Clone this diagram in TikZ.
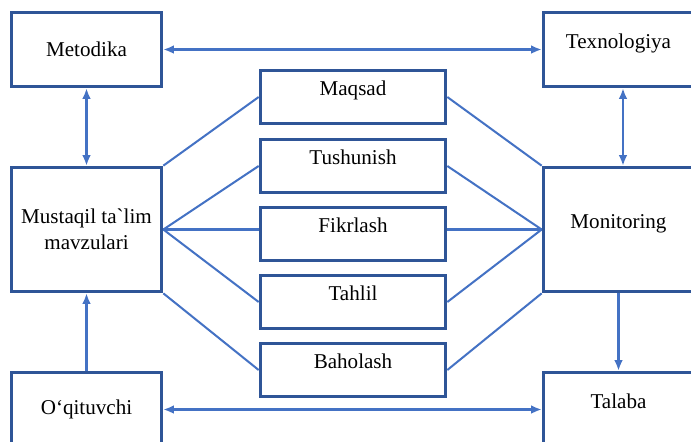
\documentclass[tikz,border=0pt]{standalone}
\usepackage{fontspec}
\setmainfont{Liberation Serif}
\newfontfamily\rawserif{Liberation Serif}
\usetikzlibrary{arrows.meta}
\definecolor{boxblue}{HTML}{2F5597}
\definecolor{lineblue}{HTML}{4472C4}

\begin{document}
\begin{tikzpicture}[
x=0.02cm, y=-0.02cm,
>={Latex[length=6pt,width=5pt]},
every node/.style={
draw=boxblue,
line width=2.1pt,
align=center,
font=\fontsize{12}{14.5}\selectfont
},
bigbox/.style={
minimum width=3.0cm,
minimum height=1.48cm
},
midbox/.style={
minimum width=3.7cm,
minimum height=1.06cm,
text height=0.25cm,
text depth=0.31cm
},
raised/.style={
text height=0.25cm,
text depth=0.31cm
},
link/.style={
draw=lineblue,
line width=1.15pt
}
]

\useasboundingbox (0,0) rectangle (691,441);
\clip (0,0) rectangle (691,441);

\node[bigbox] (Met) at (86.5,49.5)
{Metodika};

\node[bigbox,raised] (Tex) at (618.5,49.5)
{Texnologiya};

\node[bigbox,minimum height=2.48cm] (Mus) at (86.5,229.5)
{Mustaqil ta{\rawserif\char96}lim\\mavzulari};

\node[bigbox,minimum height=2.48cm,raised] (Mon) at (618.5,229.5)
{Monitoring};

\node[bigbox] (Oqi) at (86.5,409.5)
{O‘qituvchi};

\node[bigbox,raised] (Tal) at (618.5,409.5)
{Talaba};

\node[midbox] (Maq) at (353,97)
{Maqsad};

\node[midbox] (Tus) at (353,166)
{Tushunish};

\node[midbox] (Fik) at (353,234)
{Fikrlash};

\node[midbox] (Tah) at (353,302)
{Tahlil};

\node[midbox] (Bah) at (353,370)
{Baholash};

\draw[link] (Mus.north east) -- (Maq.west);
\draw[link] (Mus.east) -- (Tus.west);
\draw[link] (Mus.east) -- (Mus.east -| Fik.west);
\draw[link] (Mus.east) -- (Tah.west);
\draw[link] (Mus.south east) -- (Bah.west);

\draw[link] (Maq.east) -- (Mon.north west);
\draw[link] (Tus.east) -- (Mon.west);
\draw[link] (Mon.west -| Fik.east) -- (Mon.west);
\draw[link] (Tah.east) -- (Mon.west);
\draw[link] (Bah.east) -- (Mon.south west);

\draw[link,<->] (Met) -- (Tex);
\draw[link,<->] (Met) -- (Mus);
\draw[link,<->] ([xshift=0.09cm]Tex.south) -- ([xshift=0.09cm]Mon.north);
\draw[link,->] (Oqi) -- (Mus);
\draw[link,->] (Mon) -- (Tal);
\draw[link,<->] (Oqi) -- (Tal);

\end{tikzpicture}
\end{document}
